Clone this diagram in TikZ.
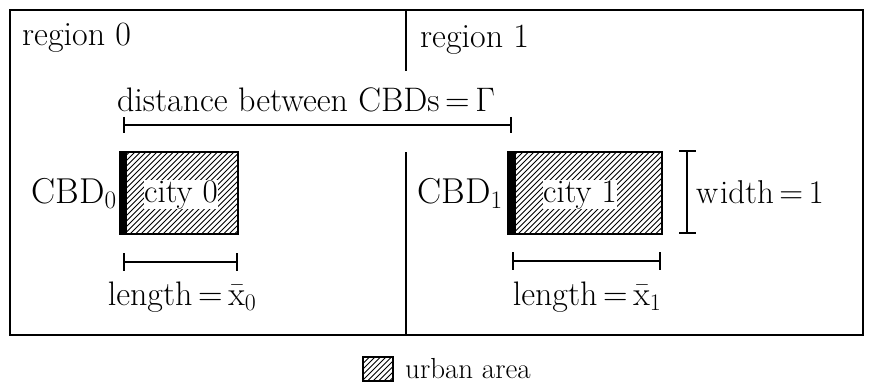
\documentclass[tikz,border=0pt]{standalone}
\usepackage{fix-cm}
\usepackage[no-math]{fontspec}
\begin{document}
\begin{tikzpicture}[x=1pt,y=-1pt,
  lbl/.style={inner sep=0pt,font=\fontsize{34}{40}\selectfont},
  rlbl/.style={inner sep=0pt,font=\fontsize{34}{40}\selectfont},
  citylbl/.style={inner sep=0.5pt,fill=white,font=\fontsize{33}{40}\selectfont},
  rule/.style={line width=2pt},
  hatched/.style={draw,line width=1.6pt,inner sep=0pt,
    path picture={
      \foreach \i in {-160,-154.5,...,200}
        \draw[line width=0.9pt] ([xshift=\i pt]path picture bounding box.south west) -- ++(120pt,120pt);
    }},
  cbd/.style={fill=black,inner sep=0pt},
]
\useasboundingbox (0,0) rectangle (875,385);

% frame and region divider
\coordinate (tl) at (10,10);
\coordinate (br) at (863,335);
\draw[rule] (tl) rectangle (br);
\coordinate (dtop) at (406,10);
\coordinate (dtopend) at (406,71);
\coordinate (dbot) at (406,152);
\coordinate (dbotend) at (406,335);
\draw[rule] (dtop) -- (dtopend);
\draw[rule] (dbot) -- (dbotend);

\node[rlbl,anchor=base west] (reg0) at (22,46) {region 0};
\node[rlbl,anchor=base west] (reg1) at (420,48) {region 1};

% distance between the two CBDs
\node[lbl,anchor=base] (dist) at (306,112) {distance between CBDs\,=\,$\Gamma$};
\coordinate (d0) at (124,125);
\coordinate (d1) at (511,125);
\draw[rule] (d0) -- (d1);
\draw[rule] ([yshift=8pt]d0) -- ([yshift=-8pt]d0);
\draw[rule] ([yshift=8pt]d1) -- ([yshift=-8pt]d1);

% city 0
\node[hatched,minimum width=118pt,minimum height=82pt,anchor=north west] (city0) at (119,151) {};
\node[cbd,minimum width=8pt,minimum height=82pt,anchor=north west] (cbd0bar) at (119,151) {};
\node[citylbl,anchor=base] (city0lbl) at (181,202) {city 0};
\node[lbl,font=\fontsize{36}{42}\selectfont,anchor=base east] (cbd0) at (117,203) {CBD\textsubscript{0}};
\coordinate (l00) at (124,262);
\coordinate (l01) at (237,262);
\draw[rule] (l00) -- (l01);
\draw[rule] ([yshift=9pt]l00) -- ([yshift=-9pt]l00);
\draw[rule] ([yshift=9pt]l01) -- ([yshift=-9pt]l01);
\node[lbl,anchor=base] (len0) at (182,305) {length\,=\,\=x\textsubscript{0}};

% city 1
\node[hatched,minimum width=154pt,minimum height=82pt,anchor=north west] (city1) at (507,151) {};
\node[cbd,minimum width=9pt,minimum height=82pt,anchor=north west] (cbd1bar) at (507,151) {};
\node[citylbl,anchor=base] (city1lbl) at (580,202) {city 1};
\node[lbl,font=\fontsize{36}{42}\selectfont,anchor=base east] (cbd1) at (503,203) {CBD\textsubscript{1}};
\coordinate (l10) at (513,261);
\coordinate (l11) at (660,261);
\draw[rule] (l10) -- (l11);
\draw[rule] ([yshift=9pt]l10) -- ([yshift=-9pt]l10);
\draw[rule] ([yshift=9pt]l11) -- ([yshift=-9pt]l11);
\node[lbl,anchor=base] (len1) at (587,305) {length\,=\,\=x\textsubscript{1}};

% width bracket
\coordinate (w0) at (687,151);
\coordinate (w1) at (687,233);
\draw[rule] (w0) -- (w1);
\draw[rule] ([xshift=-8pt]w0) -- ([xshift=9pt]w0);
\draw[rule] ([xshift=-8pt]w1) -- ([xshift=9pt]w1);
\node[lbl,font=\fontsize{33}{40}\selectfont,anchor=base west] (wid) at (696,203) {w\kern2pt idth\,=\,1};

% legend
\node[hatched,minimum width=30pt,minimum height=24pt,anchor=north west] (key) at (362,356) {};
\node[lbl,font=\fontsize{29}{34}\selectfont,anchor=base west] (keylbl) at (405,378) {urban area};
\end{tikzpicture}
\end{document}
